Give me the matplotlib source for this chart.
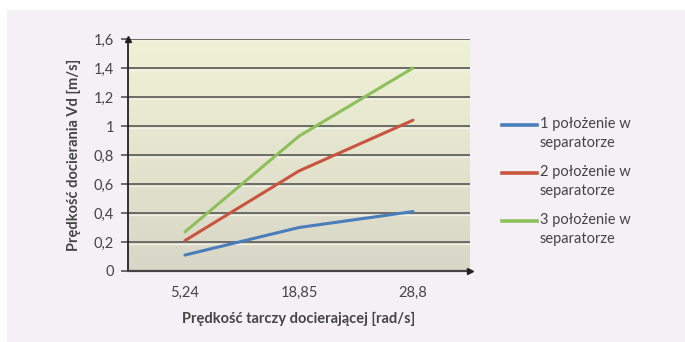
import numpy as np
import matplotlib
matplotlib.use('Agg')
import matplotlib.pyplot as plt
from matplotlib.patches import Rectangle
from matplotlib.lines import Line2D

plt.rcParams['font.family'] = ['Lato', 'DejaVu Sans']

# Dane z wykresu
kategorie = ['5,24', '18,85', '28,8']
polozenie_1 = [0.11, 0.30, 0.41]
polozenie_2 = [0.21, 0.69, 1.04]
polozenie_3 = [0.27, 0.93, 1.40]
etykiety = ['1 położenie w\nseparatorze', '2 położenie w\nseparatorze', '3 położenie w\nseparatorze']
kolory = ['#4a7ebb', '#c8553f', '#8dc05a']
y_ticks = [0, 0.2, 0.4, 0.6, 0.8, 1.0, 1.2, 1.4, 1.6]
y_tick_labels = ['0', '0,2', '0,4', '0,6', '0,8', '1', '1,2', '1,4', '1,6']

W, H = 685, 342
txt_kolor = '#454545'
fs = 10.5

fig = plt.figure(figsize=(W / 100, H / 100), dpi=100)
fig.patch.set_facecolor('white')
# jasne tło całego obszaru wykresu
fig.patches.append(Rectangle((7 / W, 0.0), 1.0, 1 - 10 / H, transform=fig.transFigure,
                             facecolor='#f4f0f5', edgecolor='none', zorder=-10))

ax = fig.add_axes([128 / W, 1 - 271 / H, 342 / W, 232 / H])
ax.set_facecolor('none')

x = np.arange(len(kategorie))
ax.set_xlim(-0.5, len(kategorie) - 0.5)
ax.set_ylim(0, 1.6)

# gradient tła obszaru kreślenia
grad = np.linspace(0, 1, 256).reshape(-1, 1)
top = np.array([0.94, 0.95, 0.84])
bottom = np.array([0.85, 0.84, 0.78])
img = bottom + (top - bottom) * grad
ax.imshow(img[:, None, :].repeat(2, axis=1), extent=[-0.5, len(kategorie) - 0.5, 0, 1.6],
          origin='lower', aspect='auto', zorder=0)

# linie siatki
for yv in y_ticks[1:]:
    ax.axhline(yv, color='#6b6b68', lw=1.4, zorder=1)
    ax.axhline(yv - 0.012, color='#f2f2ea', lw=0.8, zorder=1)

for vals, kol in zip([polozenie_1, polozenie_2, polozenie_3], kolory):
    ax.plot(x, vals, color=kol, lw=2.2, zorder=3, solid_capstyle='round')

for s in ['top', 'right']:
    ax.spines[s].set_visible(False)
ax.spines['left'].set_color('#222222')
ax.spines['bottom'].set_color('#444444')
ax.spines['left'].set_linewidth(1.3)
ax.spines['bottom'].set_linewidth(1.6)
ax.spines['left'].set_zorder(4)
ax.spines['bottom'].set_zorder(4)

# strzałki na końcach osi
ax.plot(0, 1, marker='^', color='#222222', ms=5, transform=ax.transAxes, clip_on=False, zorder=5)
ax.plot(1, 0, marker='>', color='#222222', ms=5, transform=ax.transAxes, clip_on=False, zorder=5)

ax.set_xticks(x)
ax.set_xticklabels(kategorie)
ax.set_yticks(y_ticks)
ax.set_yticklabels(y_tick_labels)
ax.tick_params(axis='x', length=0, pad=11, labelsize=fs, labelcolor=txt_kolor)
ax.tick_params(axis='y', length=5, width=1.2, color='#555555', pad=5, labelsize=fs, labelcolor=txt_kolor)

ax.set_xlabel('Prędkość tarczy docierającej [rad/s]', fontsize=fs, fontweight='bold',
              color=txt_kolor, labelpad=8)
ax.set_ylabel('Prędkość docierania Vd [m/s]', fontsize=fs, fontweight='bold',
              color=txt_kolor, labelpad=9)

# legenda rysowana ręcznie (linia na wysokości pierwszego wiersza)
for i, (kol, lab) in enumerate(zip(kolory, etykiety)):
    yy = 1 - (125 + 48 * i) / H
    fig.add_artist(Line2D([502 / W, 537 / W], [yy, yy], color=kol, lw=2.6,
                          transform=fig.transFigure))
    fig.text(540 / W, yy, lab, fontsize=fs, color=txt_kolor, va='top',
             linespacing=1.45, transform=fig.transFigure).set_y(yy + 8 / H)

fig.savefig('out.png', dpi=100, facecolor=fig.get_facecolor())
